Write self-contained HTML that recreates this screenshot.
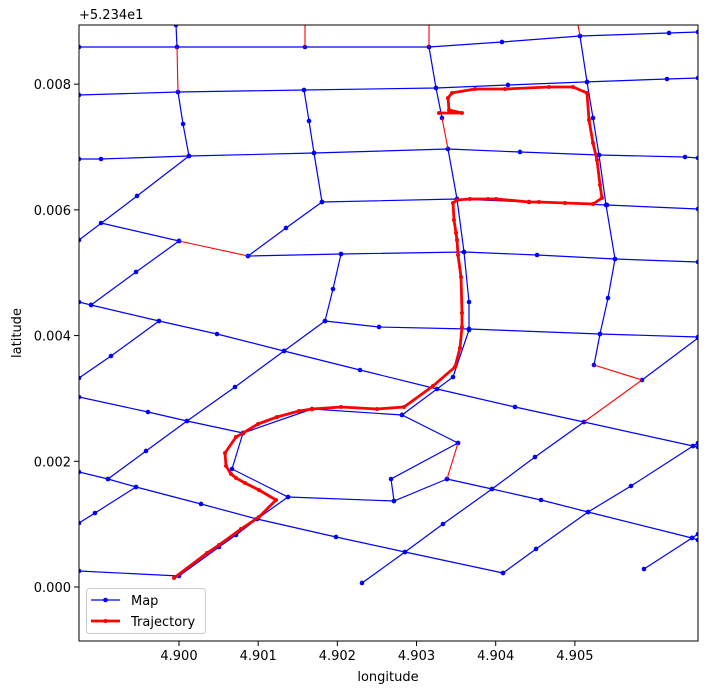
<!DOCTYPE html>
<html><head><meta charset="utf-8"><style>
html,body{margin:0;padding:0;background:#fff}
svg{display:block;font-family:"DejaVu Sans","Liberation Sans",sans-serif}
</style></head><body>
<svg id="chart" width="708" height="694" viewBox="0 0 708 694"></svg>
<script>
// Data in micro-degrees offsets: lon = 4.9 + x*1e-6, lat = 52.34 + y*1e-6
const xTicks = [0, 1000, 2000, 3000, 4000, 5000];
const xTickLabels = ["4.900", "4.901", "4.902", "4.903", "4.904", "4.905"];
const yTicks = [0, 2000, 4000, 6000, 8000];
const yTickLabels = ["0.000", "0.002", "0.004", "0.006", "0.008"];
const mapRoads = [
 [[-1263,8591],[-25,8591],[1591,8591],[3158,8591],[4079,8671],[5065,8766],[6189,8814],[6555,8830]],
 [[-1263,7828],[-13,7875],[1579,7907],[3246,7939],[4155,7987],[5153,8035],[6163,8082],[6555,8098]],
 [[-1263,6809],[-985,6809],[126,6857],[1705,6905],[3397,6969],[4307,6921],[5305,6873],[6391,6841],[6555,6825]],
 [[-1263,5521],[-530,6221],[126,6857]],
 [[-985,5791],[0,5505]],
 [[871,5266],[1351,5712],[1806,6125]],
 [[1806,6125],[3511,6173],[4421,6125],[5406,6078],[6555,6014]],
 [[871,5266],[2046,5298],[3600,5330],[4522,5282],[5507,5218],[6555,5171]],
 [[0,5505],[-543,5012],[-1111,4487]],
 [[2046,5298],[1945,4741],[1844,4232]],
 [[1844,4232],[2526,4137],[3663,4105],[5317,4025],[6555,3978]],
 [[-1263,4534],[-1111,4487],[-253,4232],[480,4025],[1326,3755],[2286,3452],[3259,3150],[4244,2864],[5115,2625],[6492,2243],[6555,2227]],
 [[-1263,3325],[-859,3675],[-253,4232]],
 [[1844,4232],[1326,3755],[707,3182],[101,2641],[-417,2164],[-897,1718]],
 [[-1263,1830],[-897,1718],[-543,1591],[278,1321],[985,1082],[1983,796],[2854,557],[4092,223]],
 [[-1263,1018],[-1061,1177],[-543,1591]],
 [[-1263,3023],[-392,2784],[101,2641],[808,2450]],
 [[808,2450],[1680,2832],[2816,2737],[3524,2291]],
 [[2816,2737],[3461,3341],[3663,4089]],
 [[3524,2291],[2678,1718],[2715,1368],[3385,1718]],
 [[808,2450],[669,1877],[1377,1432],[2715,1368]],
 [[-1263,255],[0,175],[505,636],[720,827],[985,1082],[1377,1432]],
 [[2311,64],[2854,557],[3334,1002],[3953,1559],[4496,2068],[5115,2625]],
 [[5848,3293],[6555,3962]],
 [[3385,1718],[3953,1559],[4572,1384],[5166,1193],[6479,780],[6555,748]],
 [[4092,223],[4509,605],[5166,1193],[5709,1607],[6492,2243],[6555,2291]],
 [[5873,286],[6479,780],[6555,843]],
 [[-38,8941],[-25,8591]],
 [[-13,7875],[51,7366],[126,6857]],
 [[1579,7907],[1642,7414],[1705,6905],[1806,6125]],
 [[3158,8591],[3246,7939],[3322,7462]],
 [[3397,6969],[3511,6173],[3600,5330],[3663,4534],[3663,4105]],
 [[5065,8766],[5153,8035],[5229,7462],[5305,6873],[5393,6078],[5507,5218],[5418,4598],[5317,4025],[5241,3532]]
];
const matchedEdges = [
 [[-25,8591],[-13,7875]],
 [[1591,8941],[1591,8591]],
 [[3158,8941],[3158,8591]],
 [[5039,8941],[5065,8766]],
 [[0,5505],[871,5266]],
 [[3322,7462],[3397,6969]],
 [[5241,3532],[5848,3293],[5115,2625]],
 [[3524,2291],[3385,1718]]
];
const trajectory = [[-63,143],[354,541],[505,668],[783,923],[1010,1114],[1225,1384],[1010,1543],[834,1655],[720,1734],[657,1798],[594,1925],[581,2132],[720,2387],[808,2450],[998,2593],[1238,2705],[1516,2800],[1680,2832],[2046,2864],[2501,2832],[2842,2864],[3208,3198],[3486,3500],[3549,3802],[3574,4137],[3574,4359],[3562,4932],[3524,5282],[3511,5521],[3499,5632],[3473,5839],[3461,6109],[3511,6157],[3675,6173],[3903,6173],[4004,6173],[4421,6125],[4547,6125],[4875,6109],[5229,6094],[5342,6189],[5317,6396],[5279,6794],[5229,7064],[5178,7430],[5153,7860],[4976,7955],[4673,7955],[4117,7923],[3738,7923],[3448,7860],[3397,7780],[3410,7589],[3574,7541],[3284,7541]];

const L=79,R=698,T=25,B=641;
const xDom=[-1263,6555], yDom=[-859,8941];
const sx=v=>L+(v-xDom[0])/(xDom[1]-xDom[0])*(R-L);
const sy=v=>B-(v-yDom[0])/(yDom[1]-yDom[0])*(B-T);
const NS="http://www.w3.org/2000/svg";
const svg=document.getElementById('chart');
function mk(tag,attrs,parent){const e=document.createElementNS(NS,tag);for(const k in attrs)e.setAttribute(k,attrs[k]);(parent||svg).appendChild(e);return e;}
const defs=mk('defs',{});
const cp=mk('clipPath',{id:'clip'},defs);
mk('rect',{x:L,y:T,width:R-L,height:B-T},cp);
const plot=mk('g',{'clip-path':'url(#clip)'});


const pts=a=>a.map(p=>sx(p[0]).toFixed(1)+','+sy(p[1]).toFixed(1)).join(' ');
mapRoads.forEach((road,i)=>{
  const pl=mk('polyline',{points:pts(road),fill:'none',stroke:'#0000ff','stroke-width':1.2},plot);
  
  
  road.forEach(p=>{const c=mk('circle',{cx:sx(p[0]),cy:sy(p[1]),r:2.3,fill:'#0000ff'},plot);
    
    });
});
matchedEdges.forEach((e,i)=>{
  const pl=mk('polyline',{points:pts(e),fill:'none',stroke:'#ff0000','stroke-width':1.1},plot);
  
  
});
const tr=mk('polyline',{points:pts(trajectory),fill:'none',stroke:'#ff0000','stroke-width':2.8,'stroke-linejoin':'round'},plot);


trajectory.forEach(p=>{const c=mk('circle',{cx:sx(p[0]),cy:sy(p[1]),r:2,fill:'#ff0000'},plot);
  
  });
const frame=mk('rect',{x:L,y:T,width:R-L,height:B-T,fill:'none',stroke:'#000','stroke-width':1});


xTicks.forEach((v,i)=>{const x=sx(v);
  const t=mk('line',{x1:x,x2:x,y1:B,y2:B+5,stroke:'#000'});
  
  
  const tx=mk('text',{x:x,y:B+19,'text-anchor':'middle','font-size':13});tx.textContent=xTickLabels[i];
  
  });
yTicks.forEach((v,i)=>{const y=sy(v);
  const t=mk('line',{x1:L-5,x2:L,y1:y,y2:y,stroke:'#000'});
  
  
  const tx=mk('text',{x:L-8,y:y+5,'text-anchor':'end','font-size':13});tx.textContent=yTickLabels[i];
  
  });
</script>
<svg width="0" height="0"></svg>
<div style="position:absolute;left:0;top:0;width:708px;height:694px;pointer-events:none">
<svg width="708" height="694" style="position:absolute;left:0;top:0;font-family:'DejaVu Sans','Liberation Sans',sans-serif">
<text x="79" y="19" font-size="13">+5.234e1</text>
<text x="388" y="681" font-size="13" text-anchor="middle">longitude</text>
<text transform="translate(21,333) rotate(-90)" font-size="13" text-anchor="middle">latitude</text>
<g>
<rect x="86.5" y="588.5" width="119" height="45" rx="3" fill="#fff" fill-opacity="0.85" stroke="#ccc"/>
<g>
<line x1="91" x2="120" y1="600" y2="600" stroke="#0000ff" stroke-width="1.2"/><circle cx="105.5" cy="600" r="2.3" fill="#0000ff"/>
<text x="131" y="605" font-size="13">Map</text></g>
<g>
<line x1="91" x2="120" y1="621" y2="621" stroke="#ff0000" stroke-width="2.8"/><circle cx="105.5" cy="621" r="2" fill="#ff0000"/>
<text x="131" y="626" font-size="13">Trajectory</text></g>
</g>
</svg></div>
</body></html>
